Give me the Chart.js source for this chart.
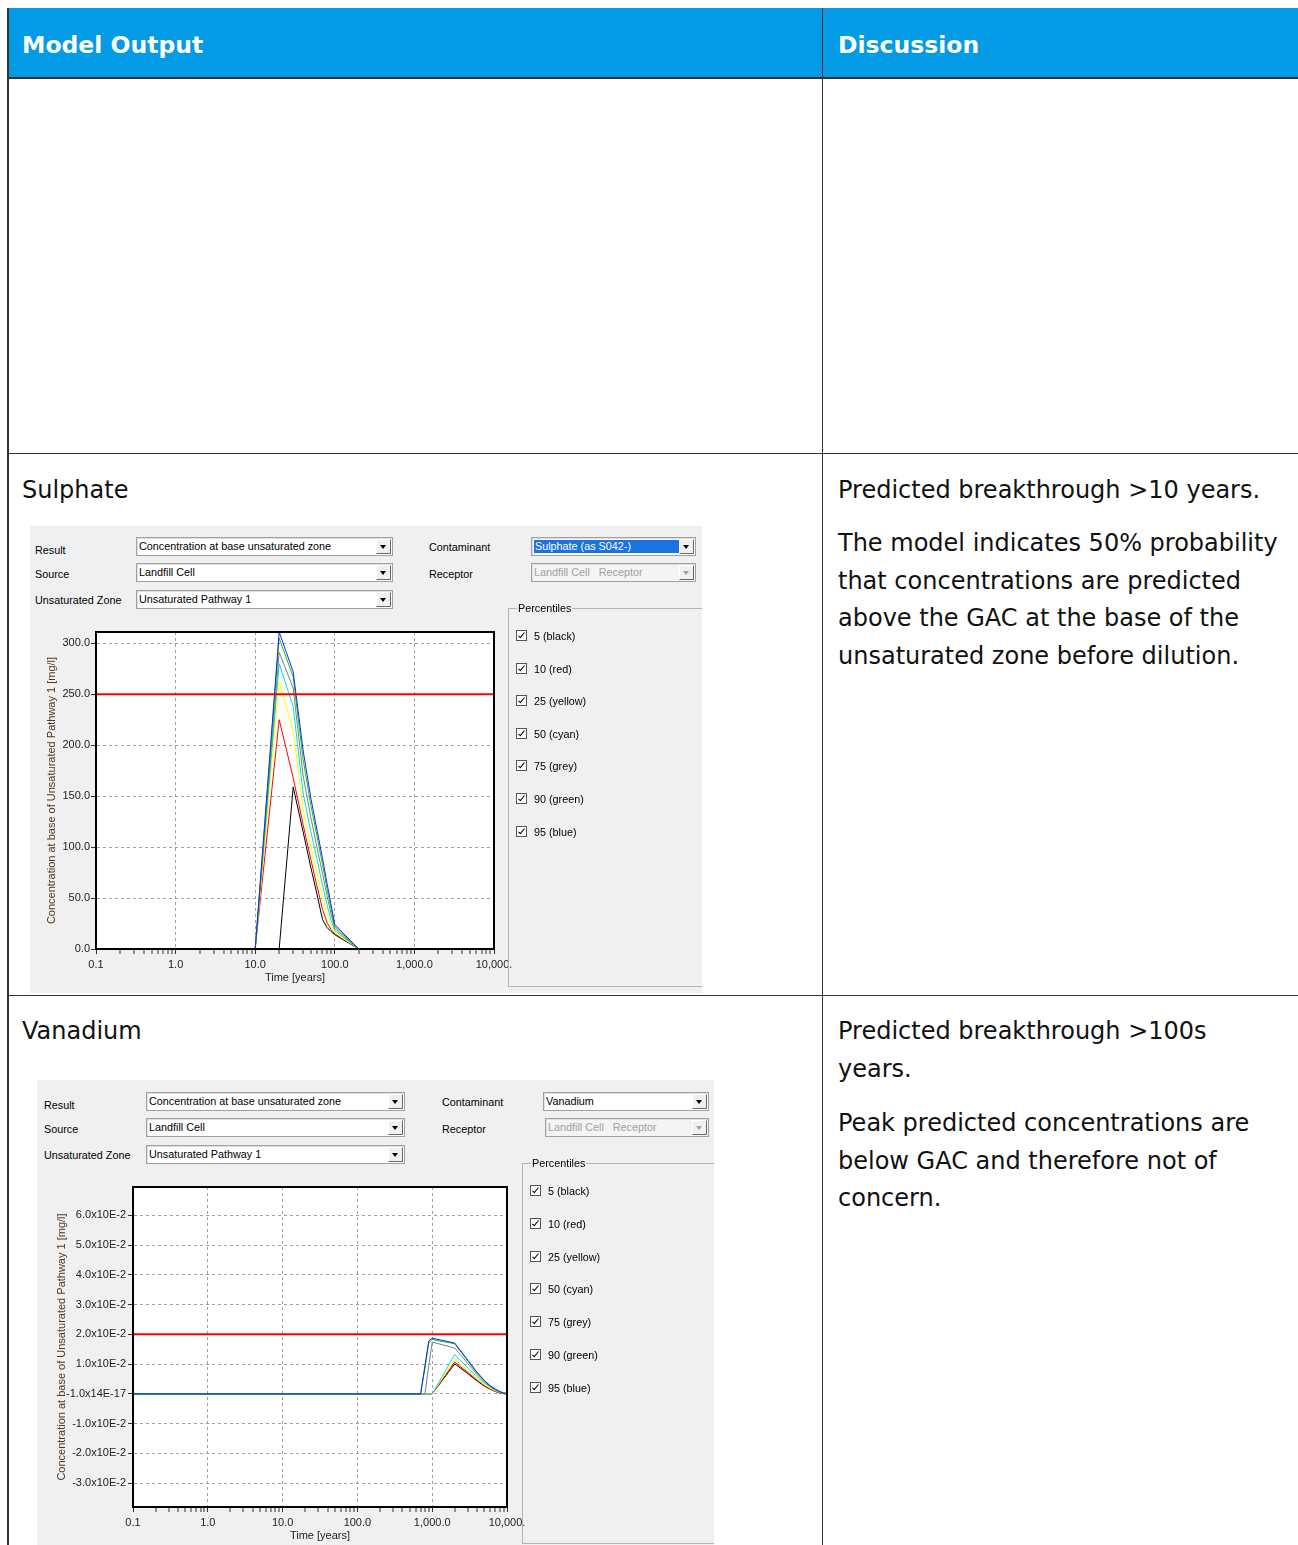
<!DOCTYPE html>
<html>
<head>
  <title>Model Output - Sulphate and Vanadium</title>
  <script src="https://cdn.jsdelivr.net/npm/chart.js"></script>
  <style>
    body { margin: 0; width: 1298px; height: 1545px; overflow: hidden; position: relative; background: #fff;
           font-family: "DejaVu Sans", Verdana, sans-serif; font-size: 24px; color: #111; }
    .line { position: absolute; background: #333; }
    .hdr { position: absolute; top: 8px; height: 70px; left: 9px; width: 1289px; background: #039be5; }
    .hdr-text { position: absolute; top: 30px; line-height: 30px; color: #fff; font-weight: bold; font-size: 23.5px; }
    .txt { position: absolute; white-space: nowrap; line-height: 37.7px; }
    .panel { position: absolute; background: #f0f0f0; overflow: hidden; color: #000;
             font-family: "Liberation Sans", Arial, sans-serif; font-size: 10.8px; }
    .panel canvas { position: absolute; }
    .lbl { position: absolute; line-height: 14px; white-space: nowrap; }
    .combo { position: absolute; height: 19px; box-sizing: border-box; background: #fff; border: 1px solid #a0a0a0;
             box-shadow: inset 1px 1px 0 #e0e0e0; line-height: 17px; padding-left: 2px; white-space: nowrap; overflow: hidden; }
    .combo i { position: absolute; right: 1px; top: 1px; width: 15px; height: 15px; box-sizing: border-box; background: #f0f0f0;
               border: 1px solid; border-color: #fff #696969 #696969 #fff; }
    .combo i::after { content: ''; position: absolute; left: 3px; top: 5px; border-left: 3.5px solid transparent;
                      border-right: 3.5px solid transparent; border-top: 4px solid #000; }
    .combo.off { background: #f4f4f4; color: #a0a0a0; }
    .combo.off i::after { border-top-color: #a0a0a0; }
    .sel { display: inline-block; width: 144px; background: #1a73e0; color: #fff; line-height: 13px; padding-left: 1px; }
    .grp { position: absolute; width: 260px; border: 1px solid #b4b4b4; }
    .grp-t { position: absolute; left: 8px; top: -8px; line-height: 14px; background: #f0f0f0; padding: 0 1px; }
    .cb-row { position: absolute; left: 0; height: 14px; line-height: 14px; white-space: nowrap; }
    .cb { position: absolute; left: 0; top: 1px; width: 11px; height: 11px; box-sizing: border-box; background: #fff; border: 1px solid #555; }
    .cb::after { content: ''; position: absolute; left: 3px; top: 0px; width: 2px; height: 6px; border: solid #000; border-width: 0 1.5px 1.5px 0; transform: rotate(40deg); }
    .cb-row span { position: absolute; white-space: nowrap; }
  </style>
</head>
<body>
  <!-- table frame -->
  <div class="hdr"></div>
  <div class="line" style="left:7px;top:8px;width:2px;height:1537px"></div>
  <div class="line" style="left:822px;top:8px;width:1px;height:1537px"></div>
  <div class="line" style="left:7px;top:77px;width:1291px;height:2px"></div>
  <div class="line" style="left:7px;top:453px;width:1291px;height:1px"></div>
  <div class="line" style="left:7px;top:995px;width:1291px;height:1px"></div>
  <div class="hdr-text" style="left:22px">Model Output</div>
  <div class="hdr-text" style="left:838px">Discussion</div>

  <!-- Sulphate row -->
  <div class="txt" style="left:22px;top:472px">Sulphate</div>
  <div class="txt" style="left:838px;top:472px">Predicted breakthrough &gt;10 years.</div>
  <div class="txt" style="left:838px;top:525px">The model indicates 50% probability<br>that concentrations are predicted<br>above the GAC at the base of the<br>unsaturated zone before dilution.</div>

  <div class="panel" style="left:30px;top:526px;width:672px;height:467px">
    <div class="lbl" style="left:5px;top:17px">Result</div>
    <div class="lbl" style="left:5px;top:41px">Source</div>
    <div class="lbl" style="left:5px;top:67px">Unsaturated Zone</div>
    <div class="combo" style="left:106px;top:11px;width:257px">Concentration at base unsaturated zone<i></i></div>
    <div class="combo" style="left:106px;top:37px;width:257px">Landfill Cell<i></i></div>
    <div class="combo" style="left:106px;top:64px;width:257px">Unsaturated Pathway 1<i></i></div>
    <div class="lbl" style="left:399px;top:14px">Contaminant</div>
    <div class="lbl" style="left:399px;top:41px">Receptor</div>
    <div class="combo" style="left:501px;top:11px;width:165px"><span class="sel">Sulphate (as S042-)</span><i></i></div>
    <div class="combo off" style="left:501px;top:37px;width:165px">Landfill Cell&nbsp;&nbsp; Receptor<i></i></div>
    <canvas id="sulphateChart" width="500" height="370" style="left:8px;top:96px"></canvas>
    <div class="grp" id="grpSulphate" style="left:478px;top:82px;height:377px"><span class="grp-t">Percentiles</span></div>
  </div>

  <!-- Vanadium row -->
  <div class="txt" style="left:22px;top:1013px">Vanadium</div>
  <div class="txt" style="left:838px;top:1013px">Predicted breakthrough &gt;100s<br>years.</div>
  <div class="txt" style="left:838px;top:1105px">Peak predicted concentrations are<br>below GAC and therefore not of<br>concern.</div>

  <div class="panel" style="left:37px;top:1080px;width:677px;height:465px">
    <div class="lbl" style="left:7px;top:18px">Result</div>
    <div class="lbl" style="left:7px;top:42px">Source</div>
    <div class="lbl" style="left:7px;top:68px">Unsaturated Zone</div>
    <div class="combo" style="left:109px;top:12px;width:259px">Concentration at base unsaturated zone<i></i></div>
    <div class="combo" style="left:109px;top:38px;width:259px">Landfill Cell<i></i></div>
    <div class="combo" style="left:109px;top:65px;width:259px">Unsaturated Pathway 1<i></i></div>
    <div class="lbl" style="left:405px;top:15px">Contaminant</div>
    <div class="lbl" style="left:405px;top:42px">Receptor</div>
    <div class="combo" style="left:506px;top:12px;width:166px">Vanadium<i></i></div>
    <div class="combo off" style="left:508px;top:38px;width:164px">Landfill Cell&nbsp;&nbsp; Receptor<i></i></div>
    <canvas id="vanadiumChart" width="510" height="372" style="left:8px;top:97px"></canvas>
    <div class="grp" id="grpVanadium" style="left:485px;top:83px;height:379px"><span class="grp-t">Percentiles</span></div>
  </div>

  <script>
    // --- shared axis data ---
    const xTickValues = [0.1, 1, 10, 100, 1000, 10000];
    const xTickLabels = ['0.1', '1.0', '10.0', '100.0', '1,000.0', '10,000.'];
    const percentileLabels = ['5 (black)', '10 (red)', '25 (yellow)', '50 (cyan)', '75 (grey)', '90 (green)', '95 (blue)'];

    // --- Sulphate (mg/l) ---
    const sulphateTimes = [10, 20, 30, 40, 50, 60, 70, 80, 90, 100, 200];
    const sulphateP95 = [0, 311, 272, 195, 148, 116, 89, 64, 43, 24, 0];
    const sulphateP90 = [0, 305, 267, 186, 141, 110, 83, 59, 39, 22, 0];
    const sulphateP75 = [0, 291, 256, 170, 129, 99, 74, 52, 34, 20, 0];
    const sulphateP50 = [0, 280, 238, 153, 115, 87, 63, 43, 28, 18, 0];
    const sulphateP25 = [0, 262, 214, 137, 101, 74, 51, 34, 23, 16, 0];
    const sulphateP10 = [0, 225, 168, 122, 88, 61, 39, 26, 19, 15, 0];
    const sulphateP5  = [0, 0, 159, 115, 80, 53, 29, 21, 17, 14, 0];
    const sulphateGac = 250;
    const sulphateYTicks = [0, 50, 100, 150, 200, 250, 300];
    const sulphateYLabels = ['0.0', '50.0', '100.0', '150.0', '200.0', '250.0', '300.0'];

    // --- Vanadium (mg/l) ---
    const vanadiumTimes = [0.1, 700, 800, 900, 1000, 2000, 3000, 4000, 5000, 6000, 7000, 8000, 9000, 10000];
    const vanadiumP95 = [0, 0, 0.0095, 0.0178, 0.0187, 0.0171, 0.0113, 0.0072, 0.0045, 0.0027, 0.0016, 0.0008, 0.0003, 0.0001];
    const vanadiumP90 = [0, 0, 0.0085, 0.0172, 0.0183, 0.0168, 0.0110, 0.0070, 0.0043, 0.0026, 0.0015, 0.0007, 0.0003, 0.0001];
    const vanadiumP75 = [0, 0, 0, 0.0095, 0.0174, 0.0154, 0.0102, 0.0065, 0.0040, 0.0024, 0.0014, 0.0007, 0.0003, 0.0001];
    const vanadiumP50 = [0, 0, 0, 0, 0, 0.0132, 0.0088, 0.0057, 0.0036, 0.0022, 0.0012, 0.0006, 0.0002, 0];
    const vanadiumP25 = [0, 0, 0, 0, 0, 0.0116, 0.0078, 0.0050, 0.0031, 0.0018, 0.0010, 0.0005, 0.0002, 0];
    const vanadiumP10 = [0, 0, 0, 0, 0, 0.0107, 0.0072, 0.0046, 0.0028, 0.0016, 0.0009, 0.0004, 0.0001, 0];
    const vanadiumP5  = [0, 0, 0, 0, 0, 0.0101, 0.0068, 0.0043, 0.0026, 0.0015, 0.0008, 0.0003, 0.0001, 0];
    const vanadiumGac = 0.02;
    const vanadiumYTicks = [-0.03, -0.02, -0.01, 0, 0.01, 0.02, 0.03, 0.04, 0.05, 0.06];
    const vanadiumYLabels = ['-3.0x10E-2', '-2.0x10E-2', '-1.0x10E-2', '-1.0x14E-17', '1.0x10E-2',
                             '2.0x10E-2', '3.0x10E-2', '4.0x10E-2', '5.0x10E-2', '6.0x10E-2'];

    // --- Percentile check boxes ---
    function fillPercentiles(id, top, step) {
      const grp = document.getElementById(id);
      percentileLabels.forEach((txt, i) => {
        const row = document.createElement('div');
        row.className = 'cb-row';
        row.style.top = (top + i * step - 7) + 'px';
        row.style.left = '7px';
        row.innerHTML = '<div class="cb"></div><span style="left:18px">' + txt + '</span>';
        grp.appendChild(row);
      });
    }
    fillPercentiles('grpSulphate', 27, 32.6);
    fillPercentiles('grpVanadium', 27, 32.8);

    // --- plot frame + white plot background ---
    const plotFrame = {
      id: 'plotFrame',
      beforeDraw(chart) {
        const { ctx, chartArea: a } = chart;
        ctx.save();
        ctx.fillStyle = '#fff';
        ctx.fillRect(a.left, a.top, a.right - a.left, a.bottom - a.top);
        ctx.restore();
      },
      afterDraw(chart) {
        const { ctx, chartArea: a } = chart;
        ctx.save();
        ctx.strokeStyle = '#000';
        ctx.lineWidth = 2;
        ctx.strokeRect(a.left, a.top, a.right - a.left, a.bottom - a.top);
        ctx.restore();
      }
    };

    const uiFont = { family: 'Liberation Sans', size: 11 };

    function buildChart(id, o) {
      // decade ticks plus the small 2..9 marks under the axis
      const minor = [];
      xTickValues.slice(0, -1).forEach(d => {
        for (let k = 2; k < 10; k++) minor.push(+(d * k).toPrecision(6));
      });
      const xAll = xTickValues.concat(minor).sort((a, b) => a - b);

      const series = (vals, color) => ({
        data: o.times.map((t, i) => ({ x: t, y: vals[i] })),
        borderColor: color, borderWidth: 1, pointRadius: 0, tension: 0, fill: false
      });

      return new Chart(document.getElementById(id), {
        type: 'line',
        data: {
          datasets: [
            { data: [{ x: 0.1, y: o.gac }, { x: 10000, y: o.gac }], borderColor: '#ff0000', borderWidth: 2, pointRadius: 0 },
            series(o.p95, '#2020ff'),
            series(o.p90, '#00d200'),
            series(o.p75, '#808080'),
            series(o.p50, '#00e0e0'),
            series(o.p25, '#ffff00'),
            series(o.p10, '#ff0000'),
            series(o.p5, '#000000')
          ]
        },
        options: {
          responsive: false,
          animation: false,
          devicePixelRatio: 1,
          layout: { padding: { top: 10, right: o.padRight, left: 0, bottom: 0 } },
          plugins: { legend: { display: false }, tooltip: { enabled: false } },
          scales: {
            x: {
              type: 'logarithmic', min: 0.1, max: 10000,
              afterBuildTicks: s => { s.ticks = xAll.map(v => ({ value: v })); },
              afterFit: s => { s.height = o.xAxisHeight; },
              ticks: {
                autoSkip: false, maxRotation: 0, minRotation: 0, padding: 4, color: '#222', font: uiFont,
                callback: v => { const i = xTickValues.indexOf(v); return i >= 0 ? xTickLabels[i] : ''; }
              },
              grid: {
                color: '#a0a0a0',
                lineWidth: c => (c.tick && xTickValues.includes(c.tick.value)) ? 1 : 0,
                tickLength: 5, tickColor: '#333', tickWidth: 1, tickBorderDash: []
              },
              border: { color: '#000', width: 2, dash: [3, 3] },
              title: { display: true, text: 'Time [years]', color: '#222', font: uiFont, padding: { top: 0, bottom: o.xTitlePad } }
            },
            y: {
              min: o.yMin, max: o.yMax,
              afterBuildTicks: s => { s.ticks = o.yTicks.map(v => ({ value: v })); },
              afterFit: s => { s.width = o.yAxisWidth; },
              ticks: { padding: o.yTickPad, color: '#222', font: uiFont, callback: (v, i) => o.yLabels[i] },
              grid: { color: '#a0a0a0', lineWidth: 1, tickLength: 5, tickColor: '#333', tickWidth: 1, tickBorderDash: [] },
              border: { color: '#000', width: 2, dash: [3, 3] },
              title: {
                display: true, text: 'Concentration at base of Unsaturated Pathway 1 [mg/l]',
                color: '#4b3621', font: uiFont, padding: { top: o.yTitlePad, bottom: 0 }
              }
            }
          }
        },
        plugins: [plotFrame]
      });
    }

    buildChart('sulphateChart', {
      times: sulphateTimes, gac: sulphateGac,
      p95: sulphateP95, p90: sulphateP90, p75: sulphateP75, p50: sulphateP50,
      p25: sulphateP25, p10: sulphateP10, p5: sulphateP5,
      yMin: 0, yMax: 311, yTicks: sulphateYTicks, yLabels: sulphateYLabels,
      padRight: 44, xAxisHeight: 43, yAxisWidth: 58, yTickPad: 1, xTitlePad: 7.4, yTitlePad: 7.4
    });

    buildChart('vanadiumChart', {
      times: vanadiumTimes, gac: vanadiumGac,
      p95: vanadiumP95, p90: vanadiumP90, p75: vanadiumP75, p50: vanadiumP50,
      p25: vanadiumP25, p10: vanadiumP10, p5: vanadiumP5,
      yMin: -0.038, yMax: 0.0695, yTicks: vanadiumYTicks, yLabels: vanadiumYLabels,
      padRight: 48, xAxisHeight: 42, yAxisWidth: 88, yTickPad: 2, xTitlePad: 6.4, yTitlePad: 10.4
    });
  </script>
</body>
</html>
